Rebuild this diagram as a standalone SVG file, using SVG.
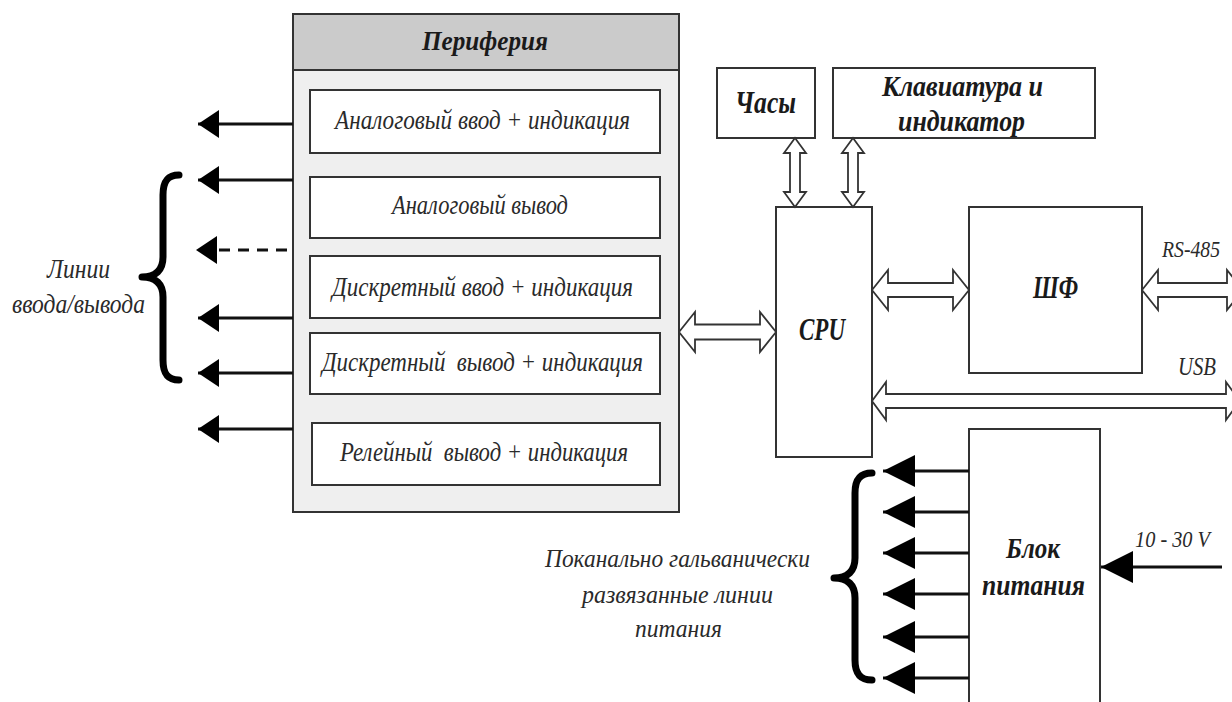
<svg xmlns="http://www.w3.org/2000/svg" width="1232" height="702" viewBox="0 0 1232 702">
<style>
.box{fill:#fff;stroke:#333;stroke-width:2}
.t{font-family:"Liberation Serif",serif;font-style:italic;fill:#2a2a2a;white-space:pre}
.b{font-weight:bold;fill:#1a1a1a}
.ln{stroke:#111;stroke-width:3;fill:none}
.dbl{fill:#fff;stroke:#333;stroke-width:1.8;stroke-linejoin:miter}
.brace{fill:none;stroke:#000;stroke-width:7;stroke-linecap:round;stroke-linejoin:round}
</style>
<defs>
<marker id="ah" markerUnits="userSpaceOnUse" markerWidth="24" markerHeight="30" refX="21" refY="14" orient="auto">
<path d="M0,0 L21,14 L0,28 Z" fill="#000"/>
</marker>
<marker id="ahb" markerUnits="userSpaceOnUse" markerWidth="34" markerHeight="34" refX="32" refY="16" orient="auto">
<path d="M0,0 L32,16 L0,32 Z" fill="#000"/>
</marker>
</defs>

<g id="periphery">
<rect x="293" y="14" width="386" height="498" fill="#efefef" stroke="#333" stroke-width="2"/>
<rect x="293" y="14" width="386" height="56" fill="#cbcbcb" stroke="#333" stroke-width="2"/>
<text class="t b" x="422" y="50" font-size="28" textLength="126" lengthAdjust="spacingAndGlyphs">Периферия</text>
</g>
<g id="ain">
<rect class="box" x="310" y="90" width="350" height="63"/>
<text class="t" x="335" y="129" font-size="28" textLength="295" lengthAdjust="spacingAndGlyphs">Аналоговый ввод + индикация</text>
</g>
<g id="aout">
<rect class="box" x="310" y="177" width="350" height="61"/>
<text class="t" x="392" y="214" font-size="28" textLength="176" lengthAdjust="spacingAndGlyphs">Аналоговый вывод</text>
</g>
<g id="din">
<rect class="box" x="310" y="256" width="350" height="62"/>
<text class="t" x="332" y="296" font-size="28" textLength="301" lengthAdjust="spacingAndGlyphs">Дискретный ввод + индикация</text>
</g>
<g id="dout">
<rect class="box" x="310" y="333" width="350" height="61"/>
<text class="t" x="322" y="371" font-size="28" textLength="321" lengthAdjust="spacingAndGlyphs">Дискретный  вывод + индикация</text>
</g>
<g id="rout">
<rect class="box" x="312" y="423" width="348" height="62"/>
<text class="t" x="340" y="461" font-size="28" textLength="288" lengthAdjust="spacingAndGlyphs">Релейный  вывод + индикация</text>
</g>

<g id="clock">
<rect class="box" x="717" y="68" width="98" height="70"/>
<text class="t b" x="735" y="113" font-size="31" textLength="61" lengthAdjust="spacingAndGlyphs">Часы</text>
</g>
<g id="keyboard">
<rect class="box" x="833" y="68" width="262" height="70"/>
<text class="t b" x="882" y="96" font-size="30" textLength="161" lengthAdjust="spacingAndGlyphs">Клавиатура и</text>
<text class="t b" x="898" y="131" font-size="30" textLength="127" lengthAdjust="spacingAndGlyphs">индикатор</text>
</g>
<g id="cpu">
<rect class="box" x="776" y="207" width="96" height="250"/>
<text class="t b" x="799" y="340" font-size="31" textLength="46" lengthAdjust="spacingAndGlyphs">CPU</text>
</g>
<g id="shf">
<rect class="box" x="969" y="207" width="173" height="166"/>
<text class="t b" x="1033" y="298" font-size="31" textLength="45" lengthAdjust="spacingAndGlyphs">ШФ</text>
</g>
<g id="power">
<rect class="box" x="969" y="429" width="131" height="290"/>
<text class="t b" x="1006" y="558" font-size="29" textLength="54" lengthAdjust="spacingAndGlyphs">Блок</text>
<text class="t b" x="982" y="595" font-size="29" textLength="103" lengthAdjust="spacingAndGlyphs">питания</text>
</g>

<g id="labels">
<text class="t" x="47" y="278" font-size="28" textLength="63" lengthAdjust="spacingAndGlyphs" fill="#444">Линии</text>
<text class="t" x="12" y="313" font-size="28" textLength="133" lengthAdjust="spacingAndGlyphs">ввода/вывода</text>
<text class="t" x="545" y="567" font-size="26" textLength="265" lengthAdjust="spacingAndGlyphs">Поканально гальванически</text>
<text class="t" x="582" y="603" font-size="26" textLength="191" lengthAdjust="spacingAndGlyphs">развязанные линии</text>
<text class="t" x="635" y="637" font-size="26" textLength="87" lengthAdjust="spacingAndGlyphs">питания</text>
<text class="t" x="1162" y="257" font-size="24" textLength="58" lengthAdjust="spacingAndGlyphs">RS-485</text>
<text class="t" x="1178" y="375" font-size="26" textLength="38" lengthAdjust="spacingAndGlyphs">USB</text>
<text class="t" x="1135" y="547" font-size="24" textLength="75" lengthAdjust="spacingAndGlyphs">10 - 30 V</text>
</g>

<g id="connectors">
<line class="ln" x1="293" y1="124" x2="198" y2="124" marker-end="url(#ah)"/>
<line class="ln" x1="293" y1="180" x2="198" y2="180" marker-end="url(#ah)"/>
<line class="ln" x1="287" y1="250" x2="196" y2="250" stroke-dasharray="11 8" marker-end="url(#ah)"/>
<line class="ln" x1="293" y1="318" x2="198" y2="318" marker-end="url(#ah)"/>
<line class="ln" x1="293" y1="373" x2="198" y2="373" marker-end="url(#ah)"/>
<line class="ln" x1="293" y1="429" x2="198" y2="429" marker-end="url(#ah)"/>

<line class="ln" x1="969" y1="471" x2="883" y2="471" marker-end="url(#ahb)"/>
<line class="ln" x1="969" y1="512" x2="883" y2="512" marker-end="url(#ahb)"/>
<line class="ln" x1="969" y1="553" x2="883" y2="553" marker-end="url(#ahb)"/>
<line class="ln" x1="969" y1="594" x2="883" y2="594" marker-end="url(#ahb)"/>
<line class="ln" x1="969" y1="637" x2="883" y2="637" marker-end="url(#ahb)"/>
<line class="ln" x1="969" y1="678" x2="883" y2="678" marker-end="url(#ahb)"/>
<line class="ln" x1="1222" y1="567" x2="1101" y2="567" marker-end="url(#ahb)"/>

<path class="dbl" d="M679,332 L695,312 L695,324.5 L760,324.5 L760,312 L776,332 L760,352 L760,339.5 L695,339.5 L695,352 Z"/>
<path class="dbl" d="M872,290 L888,270 L888,283 L953,283 L953,270 L969,290 L953,310 L953,297 L888,297 L888,310 Z"/>
<path class="dbl" d="M1142,290 L1158,270 L1158,283 L1227,283 L1227,270 L1243,290 L1227,310 L1227,297 L1158,297 L1158,310 Z"/>
<path class="dbl" d="M872,401 L886,382 L886,394 L1226,394 L1226,382 L1240,401 L1226,420 L1226,408 L886,408 L886,420 Z"/>
<path class="dbl" d="M795,138 L806,153 L800,153 L800,192 L806,192 L795,207 L784,192 L790,192 L790,153 L784,153 Z"/>
<path class="dbl" d="M853,138 L864,153 L858,153 L858,192 L864,192 L853,207 L842,192 L848,192 L848,153 L842,153 Z"/>

<path class="brace" d="M179,175 C167,175 163,182 163,195 L163,257 C163,270 156,277 142,277 C156,277 163,284 163,297 L163,360 C163,373 167,380 179,380"/>
<path class="brace" d="M872,473 C860,473 855,480 855,493 L855,558 C855,571 848,578 834,578 C848,578 855,585 855,598 L855,660 C855,673 860,680 872,680"/>
</g>
</svg>
